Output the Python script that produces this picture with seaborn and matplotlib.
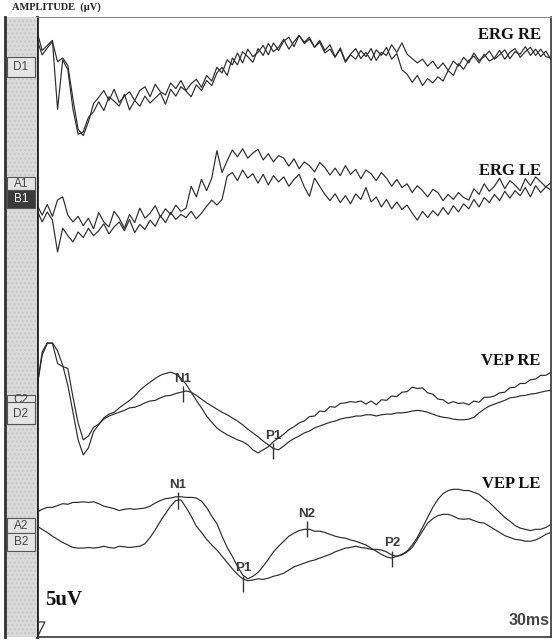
import numpy as np
import pandas as pd
import matplotlib
matplotlib.use('Agg')
import matplotlib.pyplot as plt
from matplotlib.patches import Rectangle
import seaborn as sns

# time base of the sweep, ms (one sample every 3 ms)
t_ms = np.arange(0, 301, 3)

# amplitudes in uV, relative to each channel baseline
erg_re_1 = [3.2, 1.7, 2.1, 2.5, -3.0, 0.95, 0.15, -3.0, -5.0, -4.8,
            -3.65, -3.2, -2.4, -3.1, -2.0, -2.35, -2.75, -1.8, -3.05, -2.3,
            -2.75, -1.95, -2.5, -2.1, -1.7, -2.6, -1.4, -1.95, -1.2, -1.55,
            -2.0, -1.05, -1.5, -0.7, -1.1, -0.1, 0.35, -0.3, 1.1, 0.55,
            1.6, 1.2, 0.75, 1.85, 1.3, 2.25, 1.6, 1.95, 2.6, 1.8,
            2.4, 2.9, 2.25, 2.6, 1.95, 2.35, 1.5, 1.8, 1.15, 1.9,
            0.85, 1.4, 1.85, 1.05, 1.55, 0.9, 1.75, 1.3, 1.95, 1.0,
            1.45, 0.15, -0.2, -0.85, -0.3, -1.1, -0.55, -0.9, -0.4, -0.75,
            0.1, -0.3, 0.65, 0.2, 0.9, 1.25, 0.7, 1.4, 0.85, 1.1,
            1.7, 1.0, 1.55, 1.85, 1.15, 1.6, 1.95, 1.3, 1.8, 1.2,
            1.1]
erg_re_2 = [2.55, 1.35, 1.9, 2.4, 0.8, 1.1, 0.5, -2.2, -4.6, -5.1,
            -4.0, -2.55, -2.05, -1.5, -2.3, -1.4, -2.45, -1.95, -1.6, -2.3,
            -1.5, -1.2, -2.0, -1.0, -1.6, -1.85, -0.9, -1.35, -0.7, -1.5,
            -0.95, -0.6, -1.25, -0.3, -0.75, 0.35, -0.1, 0.95, 0.55, 1.5,
            0.7, 1.8, 1.2, 1.55, 2.1, 1.35, 2.3, 1.7, 2.45, 2.75,
            2.0, 2.9, 2.35, 2.75, 1.95, 2.5, 1.7, 2.15, 1.2, 1.8,
            0.75, 1.35, 1.0, 1.7, 1.2, 1.85, 0.9, 1.55, 1.3, 2.15,
            1.55, 2.3, 1.4, 1.05, 0.7, 1.0, 0.45, 0.85, 0.25, 0.7,
            0.1, 0.85, 0.45, 1.15, 0.7, 1.5, 0.9, 1.2, 1.65, 1.0,
            1.35, 1.75, 1.05, 1.6, 1.4, 2.0, 1.3, 1.8, 1.2, 1.65,
            0.95]
erg_le_1 = [-0.55, -1.35, -0.5, -1.45, -0.15, 0.1, -1.35, -1.9, -1.45, -2.2,
            -1.6, -2.45, -1.15, -1.9, -2.3, -1.05, -1.6, -2.4, -1.3, -1.95,
            -0.8, -1.6, -1.2, -0.6, -1.5, -0.85, -1.3, -0.55, -1.05, -0.8,
            0.95, 0.1, 1.5, 0.6, 1.6, 3.8, 2.05, 3.0, 3.85, 3.3,
            3.95, 3.2, 3.6, 3.9, 3.05, 3.55, 2.9, 3.4, 3.2, 2.55,
            3.15, 2.35, 2.9, 2.6, 2.1, 2.85, 2.45, 1.85, 2.4, 1.8,
            2.6, 1.9, 2.3, 1.55, 2.25, 1.95, 1.4, 2.05, 1.6, 0.95,
            1.5, 0.85, 1.15, 0.45, 1.0, 0.6, 0.1, 0.7, 0.45, -0.2,
            0.3, -0.1, 0.45, 0.05, -0.15, 0.75, 0.3, 1.15, 0.55, 0.95,
            1.6, 0.75, 1.4, 1.05, 0.6, 1.55, 1.0, 1.7, 1.3, 0.9,
            1.25]
erg_le_2 = [-0.95, -1.9, -1.1, -1.75, -4.3, -2.4, -3.0, -3.5, -2.7, -3.15,
            -2.4, -3.0, -2.6, -2.05, -2.85, -2.3, -1.9, -2.6, -1.7, -2.75,
            -2.1, -2.5, -1.75, -2.25, -1.4, -1.95, -1.15, -1.7, -1.3, -1.55,
            -1.05, -1.65, -1.2, -0.65, -0.15, -0.55, -0.1, 1.75, 2.05, 1.4,
            2.25, 1.6, 1.95, 1.2, 1.9, 1.05, 1.8, 1.3, 1.7, 0.95,
            1.5, 1.9, 0.9, 0.15, 1.6, 0.95, 0.3, -0.2, 0.35, -0.35,
            0.2, -0.45, 0.35, -0.1, 0.85, -0.3, 0.1, -0.7, -0.1, -0.85,
            -0.3, -0.9, -0.55, -1.2, -1.75, -1.05, -1.55, -1.0, -1.4, -0.75,
            -1.3, -0.6, -1.1, -0.45, -0.85, -0.1, -0.7, 0.05, -0.35, 0.3,
            -0.2, 0.55, 0.0, 0.6, 0.2, 0.85, 0.1, 1.0, 0.45, 0.9,
            0.65]
vep_re_1 = [0.0, 2.55, 3.5, 3.55, 2.9, 1.75, 0.15, -2.0, -4.2, -5.4,
            -4.85, -3.55, -3.0, -2.45, -2.15, -2.0, -1.65, -1.35, -1.05, -0.7,
            -0.25, 0.1, 0.4, 0.7, 0.95, 1.1, 1.2, 1.05, 0.7, 0.25,
            -0.4, -1.05, -1.65, -2.3, -2.8, -3.25, -3.55, -3.8, -4.0, -4.2,
            -4.35, -4.6, -5.0, -5.25, -5.0, -4.75, -4.35, -4.05, -3.75, -3.4,
            -3.15, -2.85, -2.7, -2.35, -2.3, -1.9, -1.95, -1.55, -1.6, -1.3,
            -1.25, -1.15, -1.2, -1.1, -1.35, -1.1, -1.4, -1.0, -1.05, -0.7,
            -0.75, -0.4, -0.35, 0.0, -0.1, -0.05, -0.45, -0.55, -0.95, -1.0,
            -1.3, -1.15, -1.3, -1.25, -1.4, -1.1, -1.2, -0.8, -0.8, -0.7,
            -0.45, -0.4, -0.05, 0.0, 0.3, 0.3, 0.6, 0.65, 0.95, 0.95,
            1.2]
vep_re_2 = [0.0, 2.8, 3.55, 3.5, 1.9, 1.65, 1.5, -0.8, -2.85, -4.2,
            -3.9, -3.2, -2.95, -2.55, -2.3, -2.15, -2.0, -1.85, -1.65, -1.6,
            -1.45, -1.25, -1.1, -1.05, -0.85, -0.7, -0.65, -0.5, -0.4, -0.3,
            -0.4, -0.65, -0.95, -1.25, -1.5, -1.75, -2.0, -2.2, -2.45, -2.7,
            -3.0, -3.35, -3.65, -3.95, -4.3, -4.6, -4.9, -5.0, -4.7, -4.35,
            -4.1, -3.9, -3.65, -3.5, -3.25, -3.1, -2.95, -2.8, -2.7, -2.55,
            -2.45, -2.4, -2.3, -2.3, -2.2, -2.2, -2.3, -2.2, -2.15, -2.15,
            -2.05, -2.05, -2.0, -1.9, -1.85, -1.9, -2.0, -2.15, -2.3, -2.4,
            -2.45, -2.55, -2.6, -2.6, -2.55, -2.4, -2.05, -1.75, -1.5, -1.35,
            -1.2, -1.05, -0.85, -0.8, -0.7, -0.65, -0.55, -0.5, -0.4, -0.3,
            -0.25]
vep_le_1 = [0.0, 0.25, 0.4, 0.4, 0.55, 0.7, 0.65, 0.8, 0.8, 0.85,
            0.8, 0.85, 0.7, 0.5, 0.4, 0.3, 0.15, 0.25, 0.3, 0.25,
            0.3, 0.35, 0.5, 0.75, 0.95, 1.1, 1.15, 1.25, 1.25, 1.2,
            1.2, 1.15, 0.9, 0.4, -0.3, -0.9, -1.9, -2.8, -3.5, -4.3,
            -5.0, -5.3, -5.1, -4.8, -4.3, -3.75, -3.15, -2.7, -2.3, -1.9,
            -1.65, -1.45, -1.35, -1.35, -1.5, -1.5, -1.6, -1.75, -1.9, -2.0,
            -2.05, -2.2, -2.3, -2.45, -2.6, -2.85, -3.1, -3.35, -3.55, -3.65,
            -3.5, -3.35, -3.1, -2.6, -2.0, -1.2, -0.4, 0.4, 1.05, 1.5,
            1.75, 1.85, 1.85, 1.75, 1.75, 1.6, 1.45, 1.1, 0.8, 0.4,
            0.0, -0.4, -0.7, -1.05, -1.25, -1.35, -1.45, -1.35, -1.35, -1.2,
            -0.95]
vep_le_2 = [-1.1, -1.35, -1.6, -1.9, -2.15, -2.4, -2.6, -2.8, -2.85, -2.85,
            -2.8, -2.85, -2.8, -2.7, -2.8, -2.85, -2.7, -2.75, -2.8, -2.75,
            -2.7, -2.5, -2.0, -1.4, -0.7, -0.1, 0.5, 0.95, 1.0, 0.4,
            -0.3, -1.1, -1.6, -2.15, -2.6, -3.0, -3.5, -4.0, -4.5, -4.95,
            -5.3, -5.45, -5.4, -5.3, -5.35, -5.25, -5.1, -5.0, -4.85, -4.6,
            -4.35, -4.2, -4.05, -3.9, -3.8, -3.65, -3.5, -3.35, -3.15, -3.0,
            -2.85, -2.8, -2.7, -2.8, -2.85, -2.95, -2.95, -3.0, -3.15, -3.4,
            -3.5, -3.4, -3.15, -2.8, -2.15, -1.5, -0.85, -0.5, -0.25, -0.15,
            -0.15, -0.3, -0.5, -0.55, -0.5, -0.65, -0.8, -0.85, -1.1, -1.35,
            -1.6, -1.85, -2.0, -2.15, -2.2, -2.3, -2.3, -2.2, -2.0, -1.75,
            -1.6]

channels = ['ERG RE', 'ERG LE', 'VEP RE', 'VEP LE']
channel_traces = [[erg_re_1, erg_re_2], [erg_le_1, erg_le_2],
                  [vep_re_1, vep_re_2], [vep_le_1, vep_le_2]]
channel_offset = [45.2, 35.1, 20.0, 10.0]    # uV, display baseline
channel_title_dy = [2.9, 2.2, 2.1, 2.3]      # uV above baseline

# peak markers: latency (ms), amplitude rel. to baseline (uV)
vep_re_peaks = ['N1', 'P1']
vep_re_peak_ms = [85.2, 137.8]
vep_re_peak_uv = [-0.55, -5.1]
vep_le_peaks = ['N1', 'P1', 'N2', 'P2']
vep_le_peak_ms = [82.3, 120.3, 157.6, 207.2]
vep_le_peak_uv = [0.95, -5.7, -1.35, -3.7]

# tags in the side strip: text, box top, box bottom, text y (uV), dark box
strip_tags = [('D1', 46.37, 44.78, 45.58, False),
              ('A1', 36.79, 35.75, 36.27, False),
              ('B1', 35.75, 34.31, 35.03, True),
              ('C2', 19.38, 18.3, 18.95, False),
              ('D2', 18.8, 17.06, 17.86, False),
              ('A2', 9.55, 8.35, 8.95, False),
              ('B2', 8.35, 6.92, 7.63, False)]

# long table for seaborn
rows = []
for ch, traces, off in zip(channels, channel_traces, channel_offset):
    for i, tr in enumerate(traces):
        for t, v in zip(t_ms, tr):
            rows.append((ch, ch + str(i), t, v + off))
df = pd.DataFrame(rows, columns=['channel', 'trace', 'ms', 'uv'])

sns.set_style('white')
plt.rcParams['font.family'] = ['Liberation Sans', 'DejaVu Sans']

fig = plt.figure(figsize=(5.55, 6.43), dpi=100)
ax = fig.add_axes([37 / 555, 6 / 643, 514 / 555, 620 / 643])
strip = fig.add_axes([5 / 555, 6 / 643, 32 / 555, 620 / 643], sharey=ax)

sns.lineplot(data=df, x='ms', y='uv', units='trace', estimator=None,
             color='#2b2b2b', linewidth=0.85, legend=False, ax=ax)

ax.set_xlim(0, 300)
ax.set_ylim(0.05, 49.57)
ax.set_xticks(np.arange(30, 300, 30))
ax.set_yticks(np.arange(5, 50, 5))
ax.tick_params(axis='both', direction='in', labelleft=False, labelbottom=False,
               color='#333333')
ax.tick_params(axis='y', length=6, width=1.3)
ax.tick_params(axis='x', length=5, width=1.0)
ax.set_xlabel('')
ax.set_ylabel('')
for side, lw, col in [('left', 2.0, '#222222'), ('bottom', 1.2, '#333333'),
                      ('right', 1.2, '#333333'), ('top', 0.8, '#888888')]:
    ax.spines[side].set_visible(True)
    ax.spines[side].set_linewidth(lw)
    ax.spines[side].set_color(col)

# channel titles
for ch, off, dy in zip(channels, channel_offset, channel_title_dy):
    ax.text(294, off + dy, ch, ha='right', va='center', fontsize=12,
            fontweight='bold', family='Liberation Serif', color='#111111')

# peak markers
for names, lat, amp, off in [(vep_re_peaks, vep_re_peak_ms, vep_re_peak_uv, channel_offset[2]),
                             (vep_le_peaks, vep_le_peak_ms, vep_le_peak_uv, channel_offset[3])]:
    for n, t, a in zip(names, lat, amp):
        y = a + off
        ax.vlines(t, y - 0.65, y + 0.65, color='#333333', linewidth=1.0)
        ax.text(t, y + 0.75, n, ha='center', va='bottom', fontsize=9.5,
                fontweight='bold', color='#3a3a3a')

ax.text(4.5, 3.0, '5uV', ha='left', va='center', fontsize=15,
        fontweight='bold', family='Liberation Serif', color='#111111')
ax.text(299, 1.4, '30ms', ha='right', va='center', fontsize=11.5,
        fontweight='bold', color='#444444')
ax.plot([0.4, 4.6, 0.4], [1.25, 1.25, 0.1], color='#333333', linewidth=0.9,
        clip_on=False)

# side strip with channel tags
strip.set_facecolor('#dadada')
strip.add_patch(Rectangle((0, 0), 1, 1, transform=strip.transAxes,
                          facecolor='none', edgecolor='#c6c6c6', hatch='....',
                          linewidth=0))
strip.set_xlim(0, 1)
strip.set_xticks([])
strip.tick_params(axis='y', left=False, labelleft=False)
for side in ['top', 'right', 'bottom']:
    strip.spines[side].set_visible(False)
strip.spines['left'].set_linewidth(2.0)
strip.spines['left'].set_color('#333333')
for z, (tag, top, bot, ty, dark) in enumerate(strip_tags):
    strip.add_patch(Rectangle((0.07, bot), 0.86, top - bot,
                              facecolor='#3a3a3a' if dark else '#e4e4e4',
                              edgecolor='#555555', linewidth=0.8, zorder=3 + 2 * z))
    strip.text(0.5, ty, tag, ha='center', va='center', fontsize=8.5,
               color='white' if dark else '#444444', zorder=4 + 2 * z)

fig.text(12 / 555, 1 - 7 / 643, 'AMPLITUDE  (\u00b5V)', ha='left', va='center',
         fontsize=7.5, fontweight='bold', family='Liberation Serif',
         color='#222222')

fig.savefig('out.png', dpi=100, facecolor='white')
